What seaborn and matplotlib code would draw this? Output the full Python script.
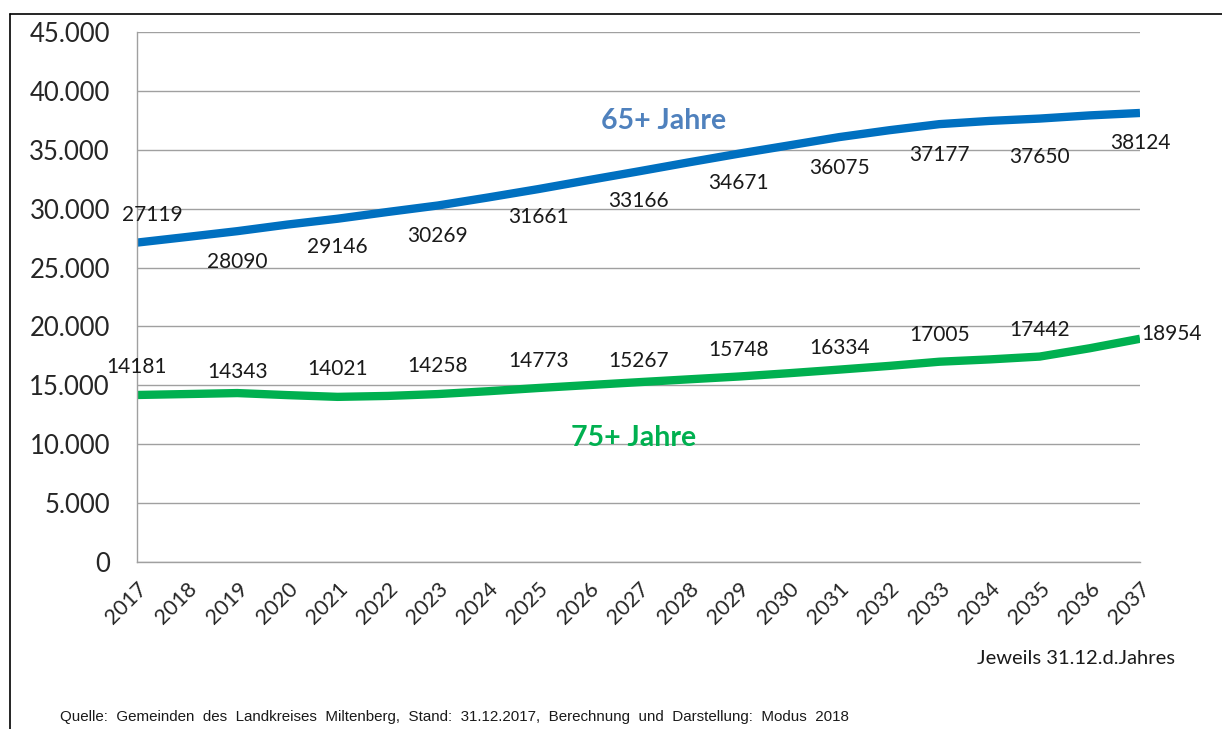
# plot.py

import seaborn as sns
import matplotlib.pyplot as plt
import matplotlib.ticker as mticker
from matplotlib.lines import Line2D
import pandas as pd

sns.set_style("white")
plt.rcParams["font.family"] = ["Lato", "DejaVu Sans"]

# Data
years = list(range(2017, 2038))
senior_65 = [27119, 27600, 28090, 28650, 29146, 29720, 30269, 30950, 31661, 32420,
             33166, 33930, 34671, 35370, 36075, 36660, 37177, 37450, 37650, 37920, 38124]
senior_75 = [14181, 14260, 14343, 14170, 14021, 14100, 14258, 14500, 14773, 15020,
             15267, 15510, 15748, 16030, 16334, 16650, 17005, 17200, 17442, 18150, 18954]
label_years = list(range(2017, 2038, 2))
series_names = ["65+ Jahre", "75+ Jahre"]
colors = ["#0070C0", "#00B050"]
title_colors = ["#4F81BD", "#00B050"]

df = pd.DataFrame({
    "Jahr": years * 2,
    "Einwohner": senior_65 + senior_75,
    "Gruppe": [series_names[0]] * len(years) + [series_names[1]] * len(years),
})

fig = plt.figure(figsize=(12.22, 7.29), dpi=100)
ax = fig.add_axes([137 / 1222, 1 - 562 / 729, (1140 - 137) / 1222, (562 - 32) / 729])

sns.lineplot(data=df, x="Jahr", y="Einwohner", hue="Gruppe", palette=colors,
             linewidth=6, legend=False, ax=ax, solid_capstyle="butt")

ax.set_xlim(2017, 2037)
ax.set_ylim(0, 45000)
ax.set_xticks(years)
ax.set_xticklabels([str(y) for y in years], rotation=45, ha="right",
                   rotation_mode="anchor", fontsize=15.5)
ax.set_yticks(range(0, 45001, 5000))
ax.yaxis.set_major_formatter(mticker.FuncFormatter(lambda v, p: f"{int(v):,}".replace(",", ".")))
ax.tick_params(axis="y", labelsize=18.5, length=6.5, color="#A0A0A0", pad=13)
ax.tick_params(axis="x", length=6, color="#A0A0A0", pad=6)
ax.grid(axis="y", color="#A0A0A0", linewidth=1)
ax.set_axisbelow(True)
for side in ["top", "right"]:
    ax.spines[side].set_visible(False)
for side in ["left", "bottom"]:
    ax.spines[side].set_color("#A0A0A0")
    ax.spines[side].set_linewidth(1)
ax.set_xlabel("")
ax.set_ylabel("")

# value labels (every second year), positioned like the original
lab65_y = [29457, 25467, 26740, 27674, 29287, 30645, 32173, 33447, 34550, 34380, 35569]
lab75_y = [16553, 16129, 16384, 16638, 17063, 17063, 17997, 18166, 19270, 19694, 19355]
for i, yr in enumerate(label_years):
    v65 = senior_65[years.index(yr)]
    v75 = senior_75[years.index(yr)]
    x65 = yr + 0.3 if yr == 2017 else yr
    ax.text(x65, lab65_y[i], str(v65), ha="center", va="center", fontsize=15,
            color="#1a1a1a", clip_on=False)
    if yr == 2037:
        ax.text(yr + 0.03, lab75_y[i], str(v75), ha="left", va="center", fontsize=15,
                color="#1a1a1a", clip_on=False)
    else:
        ax.text(yr, lab75_y[i], str(v75), ha="center", va="center", fontsize=15,
                color="#1a1a1a", clip_on=False)

ax.text(2027.5, 37436, series_names[0], ha="center", va="center", fontsize=20.5,
        fontweight="bold", color=title_colors[0])
ax.text(2026.9, 10527, series_names[1], ha="center", va="center", fontsize=20.5,
        fontweight="bold", color=title_colors[1])

fig.text(1175 / 1222, 1 - 659 / 729, "Jeweils 31.12.d.Jahres", ha="right", va="center",
         fontsize=14.5, color="#1a1a1a")
fig.text(60 / 1222, 1 - 717 / 729,
         "Quelle:  Gemeinden  des  Landkreises  Miltenberg,  Stand:  31.12.2017,  Berechnung  und  Darstellung:  Modus  2018",
         ha="left", va="center", fontsize=10.9, family=["Liberation Sans", "DejaVu Sans"],
         color="#1a1a1a")

# outer frame (top and left edges)
fig.add_artist(Line2D([10 / 1222, 1.0], [1 - 14 / 729, 1 - 14 / 729], color="black",
                      linewidth=1.2, transform=fig.transFigure))
fig.add_artist(Line2D([10 / 1222, 10 / 1222], [0, 1 - 14 / 729], color="black",
                      linewidth=1.2, transform=fig.transFigure))

fig.savefig("out.png", dpi=100)
plt.close(fig)
